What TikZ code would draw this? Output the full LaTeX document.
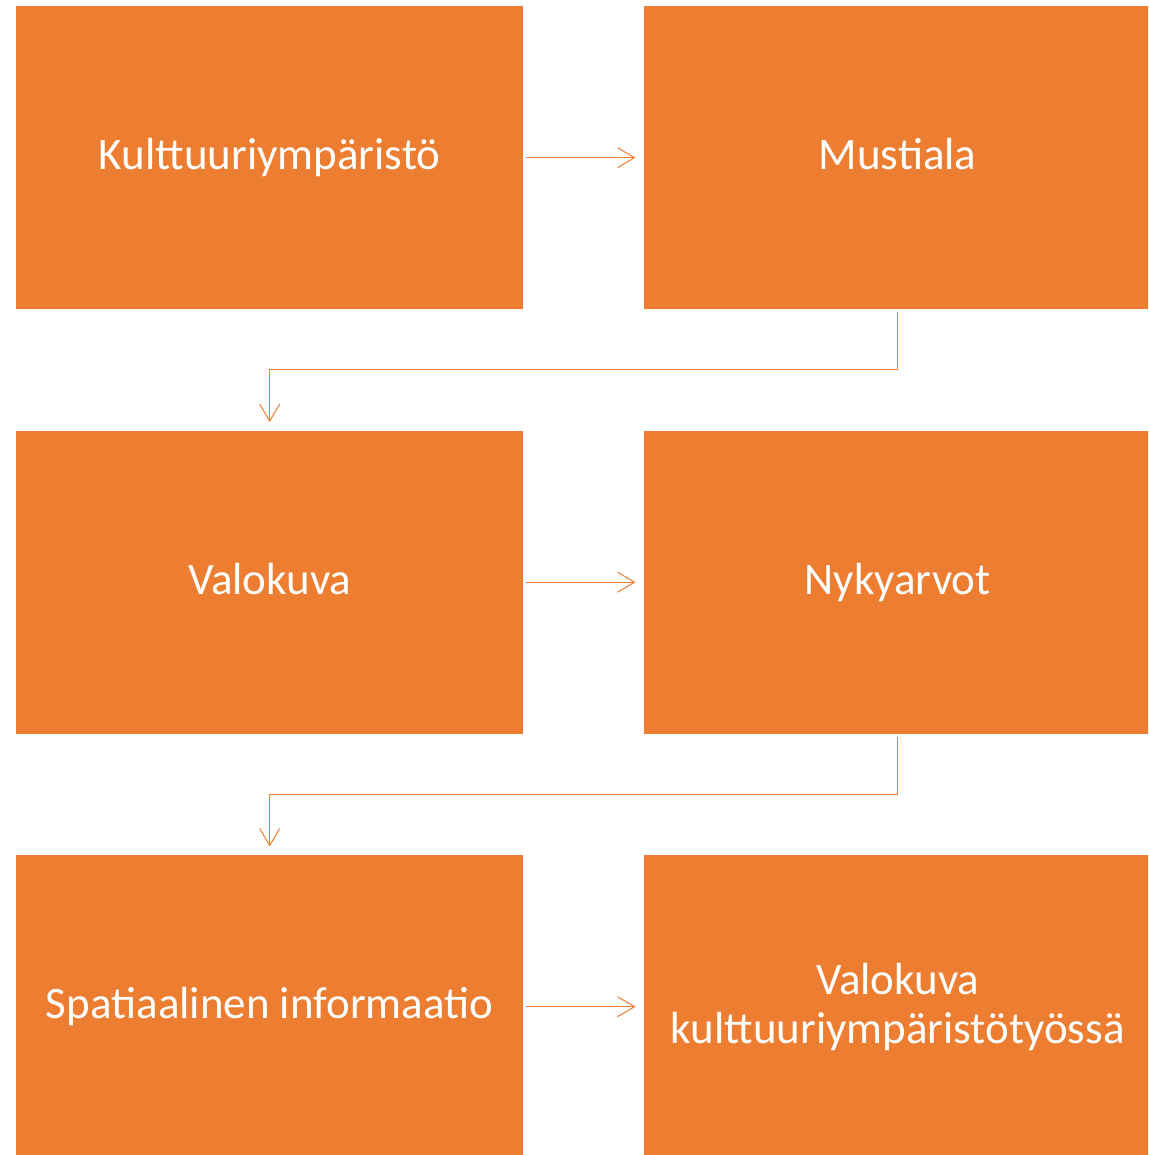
\documentclass[tikz,border=0pt]{standalone}
\usepackage{fontspec}
\setmainfont{Carlito}
\usetikzlibrary{arrows.meta,calc}
\definecolor{boxorange}{HTML}{ED7D31}
\begin{document}
\begin{tikzpicture}[x=1pt,y=-1pt,
  box/.style={fill=boxorange,draw=none,minimum width=507pt,minimum height=303pt,inner sep=0pt,
    text height=34.5pt,text depth=10.4pt,
    text=white,font=\fontsize{45}{49.5}\selectfont,align=center,anchor=north west},
  twoline/.style={text height=84pt},
  conn/.style={draw=boxorange,line width=1pt,
    -{Straight Barb[length=17pt,width=20pt,line width=1pt]},shorten <=3pt,shorten >=8.5pt}]
\useasboundingbox (0,0) rectangle (1148,1155);
\begin{scope}
\clip (0,0) rectangle (1148,1155);
\node[box] (a) at (16,6) {Kulttuuriympäristö};
\node[box] (b) at (644,6) {Mustiala};
\node[box] (c) at (16,430.5) {Valokuva};
\node[box] (d) at (644,430.5) {Nykyarvot};
\node[box] (e) at (16,855) {Spatiaalinen informaatio};
\node[box,twoline] (f) at (644,855) {Valokuva\\kulttuuriympäristötyössä};
\end{scope}
\coordinate (m1) at ($(b.south)!.5!(c.north)$);
\coordinate (m2) at ($(d.south)!.5!(e.north)$);
\draw[conn] (a.east) -- (b.west);
\draw[conn] (c.east) -- (d.west);
\draw[conn] (e.east) -- (f.west);
\draw[conn] (b.south) |- (m1) -| (c.north);
\draw[conn] (d.south) |- (m2) -| (e.north);
\end{tikzpicture}
\end{document}
